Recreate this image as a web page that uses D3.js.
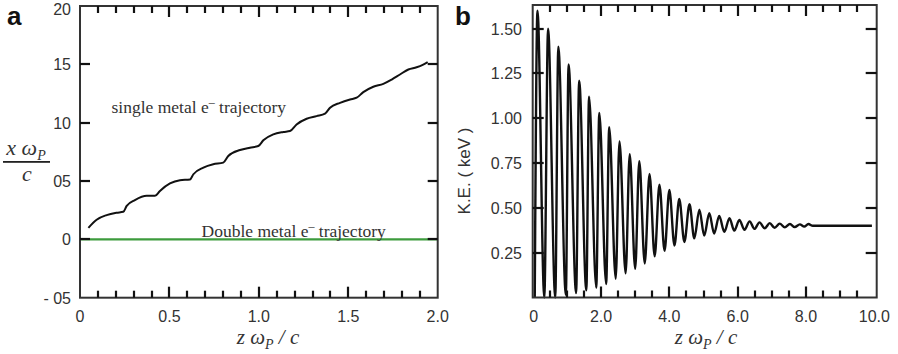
<!DOCTYPE html>
<html><head><meta charset="utf-8">
<script src="https://cdn.jsdelivr.net/npm/d3@7"></script>
<style>
html,body{margin:0;padding:0;background:#fff;}
svg{display:block;}
</style></head>
<body>
<svg id="chart" width="898" height="354"></svg>
<script>
// ---------- Panel a data ----------
const trajX = [0.047,0.093,0.149,0.205,0.242,0.261,0.307,0.373,0.419,0.447,0.503,0.559,0.615,0.634,0.69,0.745,0.801,0.829,0.895,0.95,0.997,1.025,1.081,1.137,1.174,1.211,1.267,1.323,1.37,1.398,1.454,1.51,1.547,1.584,1.64,1.696,1.743,1.789,1.836,1.882,1.919,1.944];
const trajY = [0.99,1.68,2.08,2.28,2.36,2.87,3.36,3.73,3.73,4.15,4.79,5.07,5.13,5.58,6.15,6.44,6.58,7.15,7.66,7.86,8.0,8.49,9.0,9.2,9.28,9.85,10.34,10.56,10.77,11.28,11.7,11.99,12.14,12.62,13.08,13.33,13.7,14.13,14.56,14.75,14.98,15.18];
const doubleX = [0, 2.0];
const doubleY = [0, 0];
const aXTicks = [0, 0.5, 1.0, 1.5, 2.0];
const aXTickLabels = ["0", "0.5", "1.0", "1.5", "2.0"];
const aXMinorTicks = [0.1,0.2,0.3,0.4,0.6,0.7,0.8,0.9,1.1,1.2,1.3,1.4,1.6,1.7,1.8,1.9];
const aYTicks = [-5, 0, 5, 10, 15, 20];
const aYTickLabels = ["- 05", "0", "05", "10", "15", "20"];

// ---------- Panel b data ----------
const keStart = [0.06, 0.0];
const kePeakX = [0.14,0.45,0.75,1.05,1.36,1.65,1.95,2.24,2.54,2.84,3.12,3.42,3.71,4.0,4.29,4.59,4.88,5.17,5.46,5.76,6.05,6.35,6.64,6.94,7.23,7.53,7.82,8.07];
const kePeakY = [1.60,1.50,1.40,1.30,1.21,1.12,1.03,0.95,0.87,0.80,0.76,0.69,0.63,0.60,0.55,0.52,0.49,0.47,0.455,0.443,0.433,0.425,0.419,0.415,0.412,0.41,0.408,0.41];
const keTroughX = [0.34,0.66,0.97,1.27,1.57,1.86,2.15,2.43,2.72,3.0,3.28,3.57,3.86,4.15,4.44,4.73,5.02,5.31,5.61,5.9,6.2,6.49,6.79,7.08,7.38,7.67,7.95];
const keTroughY = [0.0,0.0,0.015,0.025,0.04,0.055,0.075,0.105,0.135,0.16,0.19,0.23,0.26,0.29,0.31,0.33,0.345,0.357,0.366,0.373,0.378,0.383,0.386,0.389,0.391,0.393,0.396];
const keTailX = [8.2, 9.93];
const keTailY = [0.40, 0.40];
const bXTicks = [0, 2, 4, 6, 8, 10];
const bXTickLabels = ["0", "2.0", "4.0", "6.0", "8.0", "10.0"];
const bXMinorTicks = [0.5,1,1.5,2.5,3,3.5,4.5,5,5.5,6.5,7,7.5,8.5,9,9.5];
const bYTicks = [0.25, 0.5, 0.75, 1.0, 1.25, 1.5];
const bYTickLabels = ["0.25", "0.50", "0.75", "1.00", "1.25", "1.50"];

const svg = d3.select("#chart");
const INK = "#333";
const SANS = "'Liberation Sans', Arial, sans-serif";
const SERIF = "'Liberation Serif', 'Times New Roman', serif";
const TW = 2.2; // tick thickness

function inwardTicks(g, x, y, xVals, xLen, yVals, yLen) {
  const x0 = x.range()[0], x1 = x.range()[1], y0 = y.range()[0], y1 = y.range()[1];
  const rects = [];
  xVals.forEach(v => {
    const px = Math.round(x(v));
    rects.push([px - TW / 2, y0 - xLen, TW, xLen]);
    rects.push([px - TW / 2, y1, TW, xLen]);
  });
  yVals.forEach(v => {
    const py = Math.round(y(v));
    rects.push([x0, py - TW / 2, yLen, TW]);
    rects.push([x1 - yLen, py - TW / 2, yLen, TW]);
  });
  g.selectAll(null).data(rects).enter().append("rect")
    .attr("x", d => d[0]).attr("y", d => d[1]).attr("width", d => d[2]).attr("height", d => d[3])
    .attr("fill", "#111");
}
function frame(g, x, y) {
  const xr = x.range(), yr = y.range();
  g.append("rect").attr("x", xr[0]).attr("y", yr[1])
    .attr("width", xr[1] - xr[0]).attr("height", yr[0] - yr[1])
    .attr("fill", "none").attr("stroke", INK).attr("stroke-width", 2);
}

// ================= Panel a =================
const ga = svg.append("g");
const xa = d3.scaleLinear().domain([0, 2.0]).range([80, 437.7]);
const ya = d3.scaleLinear().domain([-5, 20]).range([297.7, 6]);

const lineA = d3.line().x(d => xa(d[0])).y(d => ya(d[1]));
ga.append("path").datum(doubleX.map((v, i) => [v, doubleY[i]]))
  .attr("d", lineA).attr("fill", "none").attr("stroke", "#3d9b3d").attr("stroke-width", 2.2);

ga.append("path").datum(trajX.map((v, i) => [v, trajY[i]]))
  .attr("d", lineA.curve(d3.curveMonotoneX)).attr("fill", "none")
  .attr("stroke", "#111").attr("stroke-width", 2);

frame(ga, xa, ya);
inwardTicks(ga, xa, ya, aXMinorTicks, 7, [], 0);
inwardTicks(ga, xa, ya, aXTicks.slice(1, -1), 11, aYTicks.slice(1, -1), 10);

aXTicks.forEach((v, i) => {
  ga.append("text").attr("x", xa(v)).attr("y", 322).attr("text-anchor", "middle")
    .attr("font-family", SANS).attr("font-size", 16).attr("fill", INK).text(aXTickLabels[i]);
});
aYTicks.forEach((v, i) => {
  ga.append("text").attr("x", 71).attr("y", Math.max(ya(v), 8.5) + 6).attr("text-anchor", "end")
    .attr("font-family", SANS).attr("font-size", 16).attr("fill", INK).text(aYTickLabels[i]);
});

function eText(g, x, y, before, after) {
  const t = g.append("text").attr("x", x).attr("y", y)
    .attr("font-family", SERIF).attr("font-size", 17.5).attr("fill", INK);
  t.append("tspan").text(before);
  t.append("tspan").attr("dy", -7).attr("font-size", 12).text("–");
  t.append("tspan").attr("dy", 7).text(after);
}
eText(ga, 111.5, 113, "single metal e", " trajectory");
eText(ga, 201.5, 237, "Double metal e", " trajectory");

function zTitle(g, cx) {
  const t = g.append("text").attr("x", cx).attr("y", 344).attr("text-anchor", "middle")
    .attr("font-family", SERIF).attr("font-style", "italic").attr("font-size", 21).attr("fill", INK);
  t.append("tspan").text("z ω");
  t.append("tspan").attr("dy", 5).attr("font-size", 14).text("P");
  t.append("tspan").attr("dy", -5).text(" / c");
}
zTitle(ga, 268);

const ytA = ga.append("text").attr("x", 26).attr("y", 155).attr("text-anchor", "middle")
  .attr("font-family", SERIF).attr("font-style", "italic").attr("font-size", 22).attr("fill", INK);
ytA.append("tspan").text("x ω");
ytA.append("tspan").attr("dy", 5).attr("font-size", 14).text("P");
ga.append("rect").attr("x", 3).attr("y", 161).attr("width", 47).attr("height", 1.8).attr("fill", "#222");
ga.append("text").attr("x", 27).attr("y", 181).attr("text-anchor", "middle")
  .attr("font-family", SERIF).attr("font-style", "italic").attr("font-size", 22).attr("fill", INK).text("c");

ga.append("text").attr("x", 7).attr("y", 25).attr("font-family", SANS).attr("font-weight", "bold")
  .attr("font-size", 26).attr("fill", "#111").text("a");

// ================= Panel b =================
const gb = svg.append("g");
const xb = d3.scaleLinear().domain([0, 10.07]).range([532.7, 876.7]);
const yb = d3.scaleLinear().domain([0, 1.632]).range([297.5, 5]);

const kePts = [keStart];
kePeakX.forEach((v, i) => {
  kePts.push([v, kePeakY[i]]);
  if (i < keTroughX.length) kePts.push([keTroughX[i], keTroughY[i]]);
});
keTailX.forEach((v, i) => kePts.push([v, keTailY[i]]));

const lineB = d3.line().x(d => xb(d[0])).y(d => yb(d[1])).curve(d3.curveMonotoneX);
gb.append("path").datum(kePts).attr("d", lineB).attr("fill", "none")
  .attr("stroke", "#111").attr("stroke-width", 2.4).attr("stroke-linejoin", "round");

frame(gb, xb, yb);
inwardTicks(gb, xb, yb, bXMinorTicks, 7, [], 0);
inwardTicks(gb, xb, yb, bXTicks.slice(1, -1), 11, bYTicks, 11);

bXTicks.forEach((v, i) => {
  gb.append("text").attr("x", xb(v) + (i === 0 ? 1 : 0)).attr("y", 322).attr("text-anchor", "middle")
    .attr("font-family", SANS).attr("font-size", 16).attr("fill", INK).text(bXTickLabels[i]);
});
bYTicks.forEach((v, i) => {
  gb.append("text").attr("x", 522).attr("y", yb(v) + 6).attr("text-anchor", "end")
    .attr("font-family", SANS).attr("font-size", 16).attr("fill", INK).text(bYTickLabels[i]);
});

gb.append("text").attr("transform", "translate(470,171) rotate(-90)").attr("text-anchor", "middle")
  .attr("font-family", SANS).attr("font-size", 17).attr("fill", INK).text("K.E. ( keV )");

zTitle(gb, 706);

gb.append("text").attr("x", 455).attr("y", 25).attr("font-family", SANS).attr("font-weight", "bold")
  .attr("font-size", 26).attr("fill", "#111").text("b");
</script>
</body></html>
